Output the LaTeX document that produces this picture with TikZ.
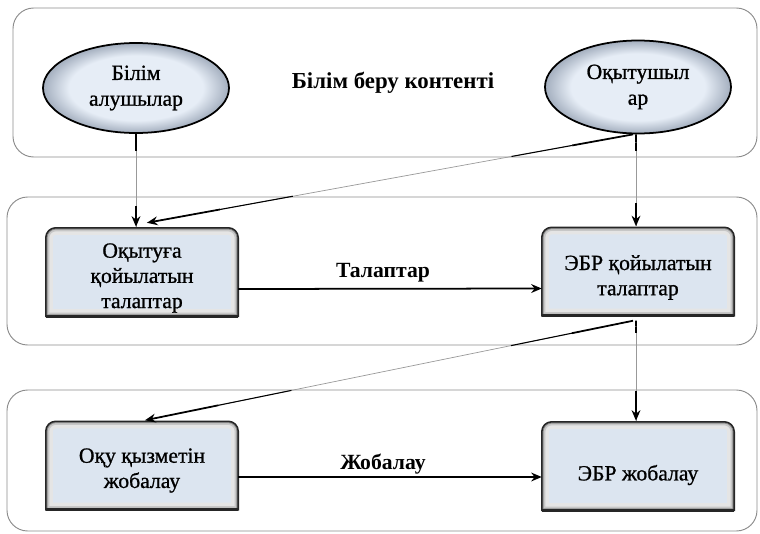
\documentclass[tikz,border=0pt]{standalone}
\usepackage{fontspec}
\setmainfont{Liberation Serif}
\newfontfamily\medserif{Liberation Serif}[RawFeature={embolden=0.9}]
\usetikzlibrary{arrows.meta,calc,shapes.geometric}
\definecolor{boxfill}{HTML}{DCE5F0}
\definecolor{ellin}{HTML}{E6EDF6}
\definecolor{ellout}{HTML}{A3AEBE}
\pgfdeclareradialshading{ellglow}{\pgfpoint{0bp}{0bp}}{color(0bp)=(ellin); color(18bp)=(ellin); color(25bp)=(ellout); color(50bp)=(ellout)}
\newcommand\glowbox[1]{%
  \begin{scope}
    \clip [boxpath=#1];
    \fill[boxfill] [boxpath=#1];
    \draw[line width=12pt, black!10] [boxpath=#1];
    \draw[line width=6pt, black!22] [boxpath=#1];
    \draw[line width=3pt, black!45] [boxpath=#1];
  \end{scope}
  \draw[line width=1.3pt, black!85] [boxpath=#1];
  \draw[line width=2.6pt, black!85] (#1.south west) -- (#1.south east);
}
\newcommand\taper[4]{%
  \draw[black!40, line width=0.6pt] (#1) -- (#2);
  \draw[black, line width=1.5pt] (#1) -- ($(#1)!#3*0.5!(#2)$);
  \draw[black, line width=0.9pt] ($(#1)!#3*0.5!(#2)$) -- ($(#1)!#3!(#2)$);
  \draw[black, line width=0.9pt] ($(#1)!1-#4!(#2)$) -- ($(#1)!1-#4*0.5!(#2)$);
  \draw[black, line width=1.5pt, -{Stealth[length=9pt,width=7.5pt]}] ($(#1)!1-#4*0.5!(#2)$) -- (#2);
}
\begin{document}
\begin{tikzpicture}[x=0.03cm, y=-0.03cm,
  cont/.style={draw=black!45, line width=0.8pt, rounded corners=0.62cm},
  ell/.style={ellipse, draw=black, line width=1.5pt, shading=ellglow, inner sep=0pt, align=center,
    font=\medserif\fontsize{18.5}{22}\selectfont},
  boxshape/.style={rectangle, inner sep=0pt, minimum width=5.76cm, minimum height=2.64cm},
  boxtext/.style={align=center, font=\medserif\fontsize{18.5}{21.5}\selectfont, inner sep=0pt},
  lbl/.style={font=\bfseries\fontsize{18.5}{21}\selectfont, inner sep=1pt},
  harrow/.style={black, line width=1.5pt, -{Stealth[length=9pt,width=7.5pt]}},
  boxpath/.style={insert path={(#1.south west) -- ([yshift=-0.3cm]#1.north west)
    arc[start angle=180, end angle=90, radius=0.3cm] -- ([xshift=-0.3cm]#1.north east)
    arc[start angle=90, end angle=0, radius=0.3cm] -- (#1.south east) -- cycle}}
]
\useasboundingbox (0,0) rectangle (760,533);
% containers
\draw[cont] (13,8) rectangle (757,157);
\draw[cont] (7,197) rectangle (757,345);
\draw[cont] (7,390) rectangle (757,531);
% top layer
\node[ell, minimum width=5.58cm, minimum height=2.7cm] (e1) at (136,88) {Білім\\алушылар};
\node[ell, minimum width=5.58cm, minimum height=2.79cm] (e2) at (638,87) {Оқытушыл\\ар};
\node[lbl, font=\bfseries\fontsize{19.5}{22}\selectfont] (title) at (393,83) {Білім беру контенті};
% boxes
\node[boxshape] (b1) at (142,272) {};
\node[boxshape] (b2) at (638,271.5) {};
\node[boxshape] (b3) at (142,465.5) {};
\node[boxshape] (b4) at (638,466) {};
\glowbox{b1}\glowbox{b2}\glowbox{b3}\glowbox{b4}
\node[boxtext] (b1t) at ($(b1)+(0,6)$) {Оқытуға\\қойылатын\\талаптар};
\node[boxtext] (b2t) at ($(b2)+(0,6)$) {ЭБР қойылатын\\талаптар};
\node[boxtext] (b3t) at ($(b3)+(0,5)$) {Оқу қызметін\\жобалау};
\node[boxtext] (b4t) at ($(b4)+(0,9)$) {ЭБР жобалау};
% connectors
\coordinate (s1) at ($(e1.south)+(0,0)$);
\coordinate (t1) at ($(e1.south |- b1.north)+(0,-1)$);
\coordinate (s2) at ($(e2.south)+(-5,0)$);
\coordinate (t2) at ($(b1.north)+(5,-5)$);
\coordinate (s3) at ($(e2.south)+(-2,0)$);
\coordinate (t3) at ($(s3 |- b2.north)+(0,-1)$);
\coordinate (s4) at ($(b2.south)+(-5,5)$);
\coordinate (t4) at ($(b3.north)+(3,-1)$);
\coordinate (s5) at ($(b2.south)+(-2,5)$);
\coordinate (t5) at ($(s5 |- b4.north)+(0,-1)$);
\taper{s1}{t1}{0.18}{0.22}
\taper{s2}{t2}{0.25}{0.3}
\taper{s3}{t3}{0.18}{0.25}
\taper{s4}{t4}{0.25}{0.3}
\taper{s5}{t5}{0.12}{0.3}
\draw[harrow] ($(b1.east)+(0,17)$) -- ($(b2.west)+(0,17)$);
\draw[harrow] ($(b3.east)+(0,11.5)$) -- ($(b4.west)+(0,11)$);
\node[lbl] (l1) at (383,273) {Талаптар};
\node[lbl] (l2) at (383,464) {Жобалау};
\end{tikzpicture}
\end{document}
